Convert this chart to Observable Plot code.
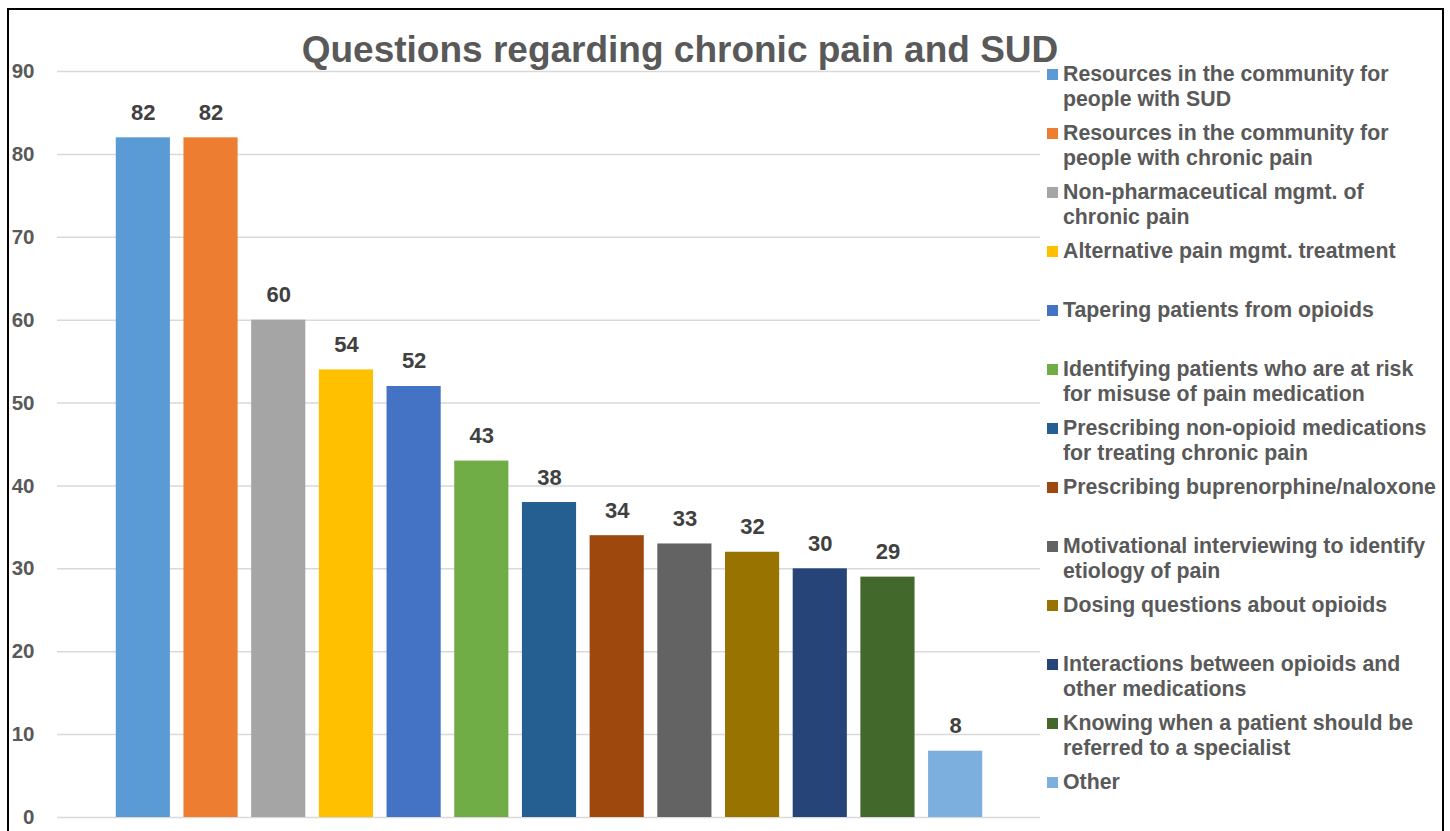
<!DOCTYPE html>
<html>
<head>
<meta charset="utf-8">
<script src="https://cdn.jsdelivr.net/npm/d3@7"></script>
<script src="https://cdn.jsdelivr.net/npm/@observablehq/plot@0.6"></script>
<style>
  html, body { margin: 0; padding: 0; background: #fff; }
  body { width: 1450px; height: 831px; position: relative; overflow: hidden;
         font-family: "Liberation Sans", Arial, sans-serif; }
  #frame { position: absolute; left: 7px; top: 8px; width: 1437px; height: 900px;
           border: 2px solid #000; box-sizing: border-box; pointer-events: none; }
  #chart { position: absolute; left: 0; top: 0; }
  #title { position: absolute; left: 0; width: 1360px; top: 31px; text-align: center;
           font-size: 37px; line-height: 37px; font-weight: bold; color: #595959; }
  .item { position: absolute; left: 1063px; font-size: 21.3px; line-height: 25px;
          font-weight: bold; color: #595959; white-space: nowrap; }
  .sw { position: absolute; left: -16px; top: 7px; width: 11px; height: 11px; }
</style>
</head>
<body>
<div id="chart"></div>
<div id="title">Questions regarding chronic pain and SUD</div>
<div id="legend"></div>
<div id="frame"></div>
<script>
// Survey topics, in bar order
const topics = [
  "Resources in the community for people with SUD",
  "Resources in the community for people with chronic pain",
  "Non-pharmaceutical mgmt. of chronic pain",
  "Alternative pain mgmt. treatment",
  "Tapering patients from opioids",
  "Identifying patients who are at risk for misuse of pain medication",
  "Prescribing non-opioid medications for treating chronic pain",
  "Prescribing buprenorphine/naloxone",
  "Motivational interviewing to identify etiology of pain",
  "Dosing questions about opioids",
  "Interactions between opioids and other medications",
  "Knowing when a patient should be referred to a specialist",
  "Other"
];
// Legend lines as wrapped in the legend
const legendLines = [
  ["Resources in the community for", "people with SUD"],
  ["Resources in the community for", "people with chronic pain"],
  ["Non-pharmaceutical mgmt. of", "chronic pain"],
  ["Alternative pain mgmt. treatment"],
  ["Tapering patients from opioids"],
  ["Identifying patients who are at risk", "for misuse of pain medication"],
  ["Prescribing non-opioid medications", "for treating chronic pain"],
  ["Prescribing buprenorphine/naloxone"],
  ["Motivational interviewing to identify", "etiology of pain"],
  ["Dosing questions about opioids"],
  ["Interactions between opioids and", "other medications"],
  ["Knowing when a patient should be", "referred to a specialist"],
  ["Other"]
];
// Number of responses per topic
const counts = [82, 82, 60, 54, 52, 43, 38, 34, 33, 32, 30, 29, 8];
const colors = [
  "#5B9BD5", "#ED7D31", "#A5A5A5", "#FFC000", "#4472C4", "#70AD47", "#255E91",
  "#9E480E", "#636363", "#997300", "#264478", "#43682B", "#7CAFDD"
];
const yTicks = [0, 10, 20, 30, 40, 50, 60, 70, 80, 90];

const data = topics.map((t, i) => ({topic: t, count: counts[i]}));

const chart = Plot.plot({
  width: 1450,
  height: 831,
  marginLeft: 57,
  marginRight: 410,
  marginTop: 71,
  marginBottom: 14,
  style: {fontFamily: "'Liberation Sans', Arial, sans-serif", background: "transparent"},
  x: {domain: topics, range: [109, 989], padding: 0.2, paddingOuter: 0.1, round: false, axis: null},
  y: {domain: [0, 90], ticks: yTicks},
  color: {domain: topics, range: colors},
  marks: [
    Plot.ruleY(yTicks, {stroke: "#D9D9D9", strokeWidth: 1.5}),
    Plot.barY(data, {x: "topic", y: "count", fill: "topic"}),
    Plot.text(data, {
      x: "topic", y: "count", text: d => String(d.count),
      lineAnchor: "bottom", dy: -18, fontSize: 22, fontWeight: "bold", fill: "#404040"
    }),
    Plot.axisY({
      ticks: yTicks, tickSize: 0, tickPadding: 23, fontSize: 20.5,
      fontWeight: "bold", fill: "#595959", label: null
    })
  ]
});
document.getElementById("chart").appendChild(chart);

// Legend entries, evenly spaced down the right side
const legend = document.getElementById("legend");
legendLines.forEach((lines, i) => {
  const item = document.createElement("div");
  item.className = "item";
  item.style.top = (62 + 59 * i) + "px";
  const sw = document.createElement("div");
  sw.className = "sw";
  sw.style.background = colors[i];
  item.appendChild(sw);
  item.insertAdjacentHTML("beforeend", lines.join("<br>"));
  legend.appendChild(item);
});
</script>
</body>
</html>
